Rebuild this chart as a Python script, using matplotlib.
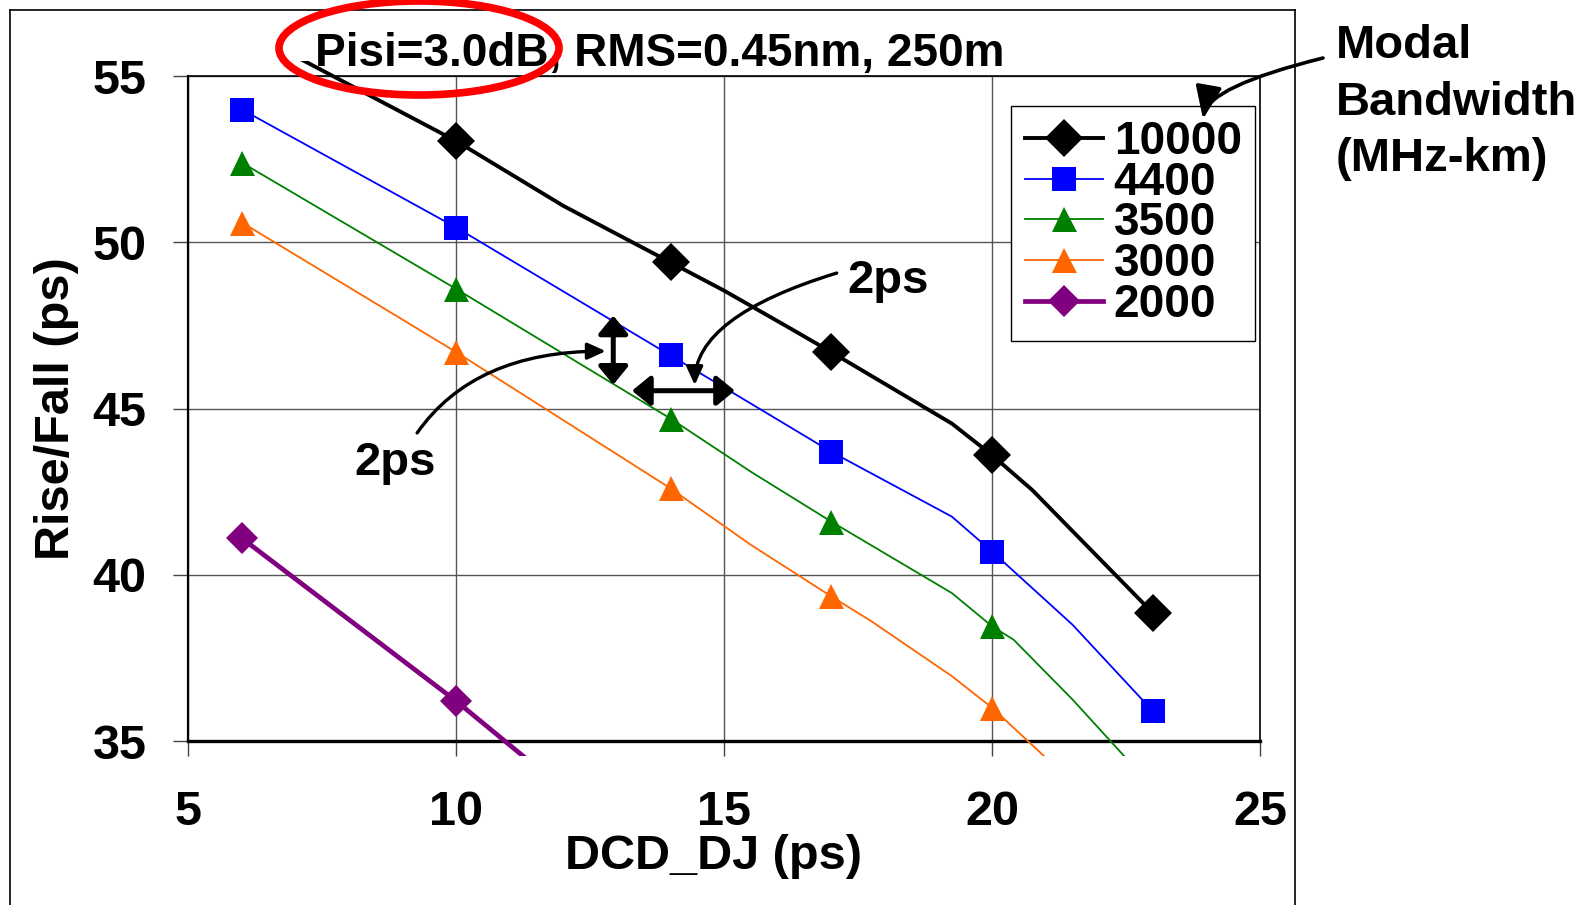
import matplotlib
matplotlib.use('Agg')
import matplotlib.pyplot as plt
from matplotlib.patches import Ellipse
from matplotlib.lines import Line2D
from matplotlib.transforms import Bbox, TransformedBbox

plt.rcParams['font.family'] = ['Liberation Sans', 'DejaVu Sans']
plt.rcParams['font.weight'] = 'bold'

# values: DCD_DJ (ps) vs Rise/Fall (ps), per modal bandwidth
x_10000 = [6, 10, 12, 14, 15, 16.25, 17, 19.25, 20, 20.75, 23]
y_10000 = [56.45, 53.05, 51.1, 49.4, 48.55, 47.4, 46.7, 44.55, 43.6, 42.55, 38.85]
mk_10000 = [0, 1, 3, 6, 8, 10]

x_4400 = [6, 10, 14, 17, 18.5, 19.25, 20, 21.5, 23]
y_4400 = [54.0, 50.45, 46.6, 43.7, 42.4, 41.75, 40.7, 38.5, 35.9]
mk_4400 = [0, 1, 2, 3, 6, 8]

x_3500 = [6, 10, 14, 15.5, 17, 19.25, 20, 20.4, 21.5, 23]
y_3500 = [52.4, 48.6, 44.7, 43.1, 41.6, 39.45, 38.45, 38.05, 36.25, 33.6]
mk_3500 = [0, 1, 2, 4, 6, 9]

x_3000 = [6, 10, 14, 15.5, 17, 17.75, 19.25, 20, 23]
y_3000 = [50.6, 46.7, 42.6, 40.9, 39.35, 38.6, 36.95, 36.0, 31.5]
mk_3000 = [0, 1, 2, 4, 7, 8]

x_2000 = [6, 10, 14]
y_2000 = [41.1, 36.2, 30.9]
mk_2000 = [0, 1, 2]

labels = ['10000', '4400', '3500', '3000', '2000']
colors = ['black', '#0000ff', '#008000', '#ff6600', '#800080']
markers = ['D', 's', '^', '^', 'D']
msizes = [19.5, 17, 18, 18, 16]
lwidths = [2.8, 1.3, 1.3, 1.3, 3.4]
xs_all = [x_10000, x_4400, x_3500, x_3000, x_2000]
ys_all = [y_10000, y_4400, y_3500, y_3000, y_2000]
mk_all = [mk_10000, mk_4400, mk_3500, mk_3000, mk_2000]

fig = plt.figure(figsize=(15.96, 9.05), dpi=100)
ax = fig.add_axes([0.1180, 0.1812, 0.6715, 0.7345])

ax.set_xlim(5, 25)
ax.set_ylim(35, 55)
ax.set_xticks([5, 10, 15, 20, 25])
ax.set_yticks([35, 40, 45, 50, 55])
ax.set_axisbelow(True)
ax.grid(True, color='#555555', lw=1.0)

# lines run a little past the plot frame (hidden above by the title box)
clip = TransformedBbox(Bbox([[4.9, 34.55], [25.1, 55.45]]), ax.transData)

handles = []
for lab, xs, ys, mk, c, m, ms, lw in zip(labels, xs_all, ys_all, mk_all,
                                         colors, markers, msizes, lwidths):
    ln, = ax.plot(xs, ys, color=c, lw=lw, marker=m, ms=ms, mew=0,
                  markevery=mk, zorder=3)
    ln.set_clip_box(clip)
    handles.append(Line2D([], [], color=c, lw=lw, marker=m, ms=ms, mew=0))

for s in ['top', 'right']:
    ax.spines[s].set_linewidth(1.2)
ax.spines['left'].set_linewidth(1.6)
ax.spines['bottom'].set_linewidth(2.4)

ax.tick_params(axis='both', direction='out', length=11, width=1.0,
               color='#444444', labelsize=35)
ax.tick_params(axis='x', pad=24)
ax.tick_params(axis='y', pad=19)

ax.set_xlabel('DCD_DJ (ps)', fontsize=35, fontweight='bold')
ax.xaxis.set_label_coords(0.49, -0.14)
ax.set_ylabel('Rise/Fall (ps)', fontsize=35, fontweight='bold')
ax.yaxis.set_label_coords(-0.102, 0.5)

leg = ax.legend(handles, labels, loc='upper left',
                bbox_to_anchor=(0.7677, 0.9553), borderaxespad=0,
                fontsize=33, frameon=True, fancybox=False, framealpha=1,
                edgecolor='black', handlelength=1.7, handletextpad=0.24,
                borderpad=0.3, labelspacing=-0.07)
leg.get_frame().set_linewidth(1.0)
leg.set_zorder(5)

# 2 ps markers
ax.annotate('', xy=(12.93, 45.72), xytext=(12.93, 47.8),
            arrowprops=dict(arrowstyle='<|-|>,head_length=1.1,head_width=0.9',
                            lw=3.6, color='black', shrinkA=0, shrinkB=0,
                            mutation_scale=10))
ax.annotate('', xy=(15.2, 45.54), xytext=(13.28, 45.54),
            arrowprops=dict(arrowstyle='<|-|>,head_length=1.1,head_width=0.9',
                            lw=3.6, color='black', shrinkA=0, shrinkB=0,
                            mutation_scale=10))
ax.annotate('', xy=(12.79, 46.73), xytext=(9.27, 44.27),
            arrowprops=dict(arrowstyle='-|>,head_length=1.1,head_width=0.5',
                            lw=2.4, color='black', shrinkA=0, shrinkB=0,
                            mutation_scale=10,
                            connectionstyle='angle3,angleA=55,angleB=0'))
ax.annotate('', xy=(14.45, 45.71), xytext=(17.1, 49.08),
            arrowprops=dict(arrowstyle='-|>,head_length=1.1,head_width=0.5',
                            lw=2.4, color='black', shrinkA=0, shrinkB=0,
                            mutation_scale=10,
                            connectionstyle='angle3,angleA=17,angleB=90'))
ax.text(8.09, 43.0, '2ps', fontsize=34, fontweight='bold',
        ha='left', va='baseline')
ax.text(17.29, 48.48, '2ps', fontsize=34, fontweight='bold',
        ha='left', va='baseline')

# title and side note
fig.text(660 / 1596, 1 - 66 / 905, 'Pisi=3.0dB, RMS=0.45nm, 250m',
         fontsize=33, fontweight='bold', ha='center', va='baseline')
for txt, yb in [('Modal', 58), ('Bandwidth', 115), ('(MHz-km)', 171)]:
    fig.text(1336 / 1596, 1 - yb / 905, txt, fontsize=34, fontweight='bold',
             ha='left', va='baseline')
ax.annotate('', xy=(1203, 905 - 119), xycoords='figure pixels',
            xytext=(1323, 905 - 58), textcoords='figure pixels',
            arrowprops=dict(arrowstyle='-|>,head_length=2.0,head_width=0.8',
                            lw=2.6, color='black', shrinkA=0, shrinkB=0,
                            mutation_scale=10,
                            connectionstyle='angle3,angleA=14,angleB=80'),
            annotation_clip=False, zorder=8)

fig.add_artist(Ellipse((419 / 1596, 1 - 48 / 905), 280 / 1596, 94 / 905,
                       transform=fig.transFigure, fill=False,
                       edgecolor='red', lw=5.5, zorder=10))

# outer chart frame
fl, fr, ft = 10 / 1596, 1295 / 1596, 1 - 10 / 905
for xx, yy in [([fl, fr], [ft, ft]), ([fl, fl], [ft, 0]), ([fr, fr], [ft, 0])]:
    fig.add_artist(Line2D(xx, yy, transform=fig.transFigure,
                          color='black', lw=1.2))

fig.savefig('out.png', dpi=100)
